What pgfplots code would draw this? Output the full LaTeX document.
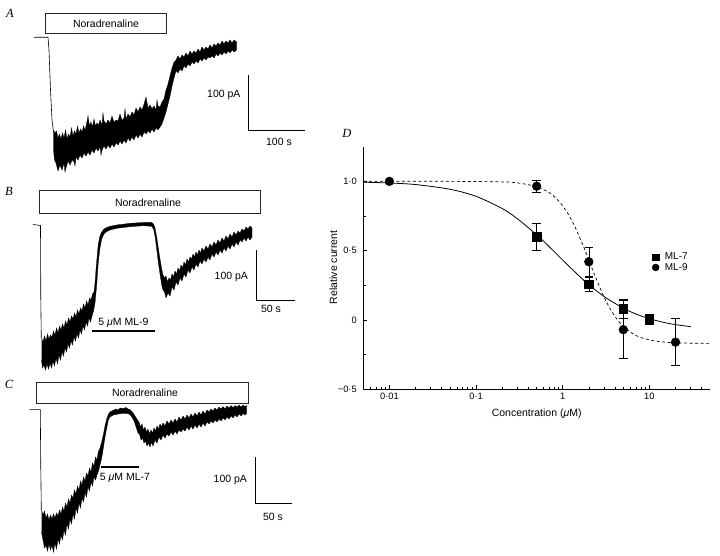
\documentclass[border=0pt]{standalone}
\usepackage{fontspec}
\setmainfont{Liberation Sans}
\newfontfamily\lser{Liberation Serif}
\usepackage{pgfplots}
\pgfplotsset{compat=1.18}
\newcommand\lab{\fontsize{10.5}{12}\selectfont}
\newcommand\pan{\lser\itshape\fontsize{12.5}{14}\selectfont}
\begin{document}
\begin{tikzpicture}
% ---------- panels A, B, C (pixel coordinates, y downward) ----------
\begin{axis}[at={(0pt,0pt)}, anchor=south west, width=720pt, height=556pt, scale only axis,
  xmin=0, xmax=720, ymin=0, ymax=556, y dir=reverse, axis lines=none, clip=false]
% ===== A =====
\addplot[black, line width=0.6pt] coordinates {(34,37.3) (48,37.3) (49,50) (50.5,90) (52,120) (53.5,132)};
\addplot[draw=black, fill=black, line width=0.3pt] coordinates {
(53.3,130) (55,133) (56.5,131) (58,138) (59.5,134) (61,139) (62.5,133) (64,138) (65.5,130) (67,139) (68.5,134) (70,137) (71.5,128) (73,136) (74.5,131) (76,134) (77.5,126) (79,133) (80.5,129) (82,132) (83.5,126) (85,130) (86.5,124) (88,116) (89.5,126) (91,122) (92.5,127) (94,119) (95.5,126) (97,123) (98.5,125) (100,120) (102,125) (103,113) (104,121) (106,124) (108,120) (110,123) (112,116) (114,122) (116,120) (118,121) (120,114) (122,120) (124,118) (125,109) (126,119) (128,114) (130,117) (132,112) (134,115) (136,108) (138,112) (140,107) (142,110) (144,104) (146,97) (148,108) (150,105) (152,109) (154,106) (156,110) (157,100) (158,106) (160,107) (162,102) (164,99) (166,90) (168,84) (170,76) (172,68) (174,62) (176,60) (178,56) (180,59) (182,55) (184,57) (186,53) (188,56) (190,51) (192,54) (194,51) (196,53) (198,49) (200,52) (202,47) (204,50) (206,47) (208,49) (210,45) (212,48) (214,44) (216,46) (218,43) (220,45) (222,41) (224,44) (226,41) (228,43) (230,40) (232,43) (234,40) (236.7,42)
(236.7,50) (234,52) (232,50) (230,53) (228,51) (226,54) (224,52) (222,55) (220,53) (218,56) (216,54) (214,58) (212,56) (210,58) (208,57) (206,60) (204,58) (202,61) (200,59) (198,63) (196,61) (194,64) (192,62) (190,66) (188,64) (186,68) (184,66) (182,71) (180,69) (178,73) (176,71) (174,78) (172,86) (170,96) (168,104) (166,112) (164,118) (162,124) (160,127) (158,130) (156,128) (154,132) (152,129) (150,133) (148,131) (146,134) (144,132) (142,137) (140,134) (138,138) (136,135) (134,140) (132,137) (130,141) (128,138) (126,143) (124,140) (122,144) (120,141) (118,145) (116,143) (114,147) (112,144) (110,148) (108,145) (106,149) (104,146) (102,150) (101,155) (100,147) (98,151) (96,148) (94,153) (92,150) (90,155) (88,152) (86,156) (84,153) (82,158) (80,155) (78,160) (76,157) (75,166) (74,162) (72,160) (70,165) (68,161) (66,168) (65,172) (64,163) (62,170) (60,165) (58,171) (56,163) (54.5,160) (53.5,150)};
\draw[black!85, line width=0.6pt] (axis cs:45.7,13.3) rectangle (axis cs:166,33.3);
\node[font=\lab] at (axis cs:106,23.5) {Noradrenaline};
\draw[black, line width=0.8pt] (axis cs:248.5,75.5) -- (axis cs:248.5,130.8) -- (axis cs:305,130.8);
\node[font=\lab, anchor=east] at (axis cs:244,95) {100 pA};
\node[font=\lab] at (axis cs:279,141.5) {100 s};
\node[font=\pan] at (axis cs:10,13) {A};
% ===== B =====
\addplot[black, line width=0.6pt] coordinates {(33,224.5) (40.5,225.5) (40.8,300) (41.3,338)};
\addplot[draw=black, fill=black, line width=0.3pt] coordinates {
(41.5,338) (43,342) (44.5,336) (46,341) (47.5,334) (49,339) (50.5,335) (52,337) (53.5,331) (55,335) (56.5,328) (58,333) (59.5,326) (61,330) (62.5,324) (64,328) (65.5,321) (67,325) (68.5,318) (70,322) (71.5,316) (73,319) (74.5,313) (76,317) (77.5,310) (79,314) (80.5,308) (82,311) (83.5,304) (85,308) (86.5,301) (88,305) (89.5,298) (91,300) (92.5,294) (94,292) (95,283) (96,270) (97,258) (98.3,244) (100,236) (101.7,232) (104,229) (106.7,227.5) (110,226.3) (116.7,225) (130,223.3) (143,222.5) (151.7,222.3) (153.5,224) (155,228) (156.7,237) (158.3,248) (160,259) (161.7,269) (163,275) (164.5,278) (166,276) (167.5,282) (169,278) (170.5,280) (172,274) (173.5,277) (175,271) (176.5,274) (178,268) (179.5,271) (181,265) (182.5,268) (184,262) (185.5,265) (187,259) (188.5,262) (190,257) (191.5,259) (193,254) (194.5,257) (196,252) (197.5,255) (199,250) (200.5,253) (202,248) (204,251) (206,246) (208,249) (210,244) (212,247) (214,242) (216,245) (218,240) (220,243) (222,238) (224,241) (226,236) (228,239) (230,234) (232,237) (234,232) (236,235) (238,231) (240,233) (242,229) (244,231) (246,227) (248,229) (250,226) (252,228)
(252,237) (250,240) (248,237) (246,241) (244,238) (242,242) (240,240) (238,245) (236,242) (234,247) (232,244) (230,249) (228,246) (226,251) (224,248) (222,253) (220,250) (218,255) (216,252) (214,257) (212,254) (210,260) (208,257) (206,262) (204,259) (202,264) (200,261) (198,267) (196,264) (194,270) (192,267) (190,273) (188,270) (186,277) (184,274) (182,281) (180,278) (178,285) (176,282) (174,290) (172,287) (170,296) (168,293) (166,298) (164.5,292) (163,290) (161.7,285) (160,274) (158.3,262) (156.7,249) (155,236) (153.5,229) (151.7,226.3) (143,225.7) (130,226.7) (116.7,228.3) (110,230) (106.7,231.5) (104,234) (101.7,239) (100,248) (98.3,262) (96.7,285) (95,303) (93.5,311) (92,316) (90.5,322) (89,318) (87.5,326) (86,322) (84.5,330) (83,326) (81.5,334) (80,330) (78.5,338) (77,334) (75.5,341) (74,337) (72.5,345) (71,341) (69.5,348) (68,344) (66.5,352) (65,348) (63.5,356) (62,352) (60.5,360) (59,355) (57.5,364) (56,358) (54.5,366) (53,361) (51.5,368) (50,363) (48.5,369) (47,364) (45.5,370) (44,365) (42.5,368) (41.5,360)};
\draw[black!85, line width=0.6pt] (axis cs:39.3,190) rectangle (axis cs:260,213.3);
\node[font=\lab] at (axis cs:148,202.5) {Noradrenaline};
\draw[black, line width=1.6pt] (axis cs:91.7,331) -- (axis cs:155,331);
\node[font=\lab] at (axis cs:123.5,322.5) {5 \textit{μ}M ML-9};
\draw[black, line width=0.8pt] (axis cs:256,250) -- (axis cs:256,300) -- (axis cs:295,300);
\node[font=\lab, anchor=east] at (axis cs:251.5,277) {100 pA};
\node[font=\lab] at (axis cs:271,308.5) {50 s};
\node[font=\pan] at (axis cs:9,191.5) {B};
% ===== C =====
\addplot[black, line width=0.6pt] coordinates {(29.3,409.3) (40,409.3) (40.3,410) (40.8,470) (41.3,510)};
\addplot[draw=black, fill=black, line width=0.3pt] coordinates {
(41.5,510) (43,515) (44.5,511) (46,518) (47.5,514) (49,520) (50.5,515) (52,519) (53.5,514) (55,518) (56.5,513) (58,516) (59.5,510) (61,514) (62.5,507) (64,511) (65.5,503) (67,507) (68.5,499) (70,503) (71.5,495) (73,498) (74.5,490) (76,494) (77.5,486) (79,490) (80.5,481) (82,485) (83.5,477) (85,481) (86.5,473) (88,476) (89.5,468) (91,472) (92.5,463) (94,466) (95.5,457) (97,460) (98.3,452) (100,448) (101.7,442) (103.5,434) (105,426) (106.7,419) (108.3,414.5) (110,412) (113.3,410.3) (116,409) (118,410) (120,408) (123.3,408.5) (126,407.5) (128,409) (130,409.5) (132.5,412) (135,416) (137.5,420) (139,422) (140.5,427) (142,424) (143.5,430) (145,427) (146.5,432) (148,429) (149.5,434) (151,430) (152.5,433) (154,428) (155.5,431) (157,426) (158.5,429) (160,424) (161.5,427) (163,423) (165,426) (167,421) (169,424) (171,420) (173,423) (175,419) (177,422) (179,417) (181,420) (183,416) (185,419) (187,415) (189,418) (191,414) (193,417) (195,413) (197,416) (199,412) (201,415) (203,411) (205,414) (207,410) (209,412) (211,409) (213,411) (215,408) (217,410) (219,407) (221,409) (223,406.5) (225,409) (227,406) (229,408) (231,405.5) (233,407.5) (235,405.5) (237,407) (239,405) (241,407) (243,405) (245,406.5) (246.7,405.5)
(246.7,413.3) (245,415) (243,413.5) (241,416) (239,414) (237,417) (235,415) (233,418) (231,416) (229,419) (227,417) (225,420) (223,418) (221,421) (219,419) (217,422) (215,420) (213,423) (211,421) (209,424) (207,422) (205,426) (203,423) (201,427) (199,424) (197,428) (195,425) (193,429) (191,426) (189,430) (187,427) (185,431) (183,429) (181,432) (179,430) (177,434) (175,431) (173,435) (171,432) (169,436) (167,434) (165,438) (163,435) (161,440) (159,437) (157,443) (155,440) (153,446) (151.5,442) (150,447) (148.5,443) (147,446) (145.5,441) (144,443) (142.5,438) (141,440) (139.5,434) (138,433) (136,427) (134,421) (132.5,418) (130,414.5) (127,413.5) (123.3,413.3) (118,414) (113.3,415) (110,417) (108.3,420) (106.7,428) (105,437) (103.5,447) (101.7,458) (100,465) (98.5,471) (97,475) (95.5,480) (94,477) (92.5,486) (91,482) (89.5,491) (88,487) (86.5,497) (85,493) (83.5,502) (82,498) (80.5,508) (79,503) (77.5,513) (76,508) (74.5,519) (73,514) (71.5,524) (70,519) (68.5,529) (67,524) (65.5,535) (64,530) (62.5,540) (61,535) (59.5,544) (58,539) (56.5,549) (55,543) (53.5,552) (52,545) (50.5,550) (49,544) (47.5,551) (46,545) (44.5,548) (43,540) (41.5,532)};
\draw[black!85, line width=0.6pt] (axis cs:36.7,382.5) rectangle (axis cs:248.3,403);
\node[font=\lab] at (axis cs:145,392.5) {Noradrenaline};
\draw[black, line width=1.6pt] (axis cs:101,467) -- (axis cs:139.3,467);
\node[font=\lab] at (axis cs:125,478) {5 \textit{μ}M ML-7};
\draw[black, line width=0.8pt] (axis cs:255,457.3) -- (axis cs:255,503.3) -- (axis cs:291.7,503.3);
\node[font=\lab, anchor=east] at (axis cs:250.5,480) {100 pA};
\node[font=\lab] at (axis cs:273,516.5) {50 s};
\node[font=\pan] at (axis cs:9,384.5) {C};
% ===== D letter =====
\node[font=\pan] at (axis cs:347,133.3) {D};
\end{axis}
% ---------- panel D ----------
\begin{axis}[at={(363.3pt,166.7pt)}, anchor=south west, width=346.7pt, height=242.6pt, scale only axis,
  xmode=log, xmin=0.005, xmax=50, ymin=-0.5, ymax=1.25,
  axis x line=bottom, axis y line=left, axis line style={-, line width=0.8pt},
  xtick={0.01,0.1,1,10}, xticklabels={0·01,0·1,1,10},
  minor xtick={0.006,0.007,0.008,0.009,0.02,0.03,0.04,0.05,0.06,0.07,0.08,0.09,0.2,0.3,0.4,0.5,0.6,0.7,0.8,0.9,2,3,4,5,6,7,8,9,20,30,40},
  ytick={-0.5,0,0.5,1}, yticklabels={−0·5,0,0·5,1·0},
  minor ytick={-0.25,0.25,0.75},
  tick align=inside, major tick length=4pt, minor tick length=2.5pt,
  tick style={black, line width=0.6pt},
  ticklabel style={font=\fontsize{9.3}{11}\selectfont},
  yticklabel style={xshift=-3pt},
  xlabel={Concentration (\textit{μ}M)}, ylabel={Relative current},
  label style={font=\lab},
  x label style={at={(axis description cs:0.5,-0.099)}, anchor=center},
  y label style={at={(axis description cs:-0.0865,0.503)}, anchor=center},
  clip=false,
  legend style={at={(axis cs:10.7,0.50)}, anchor=north west, draw=none, fill=none,
    font=\fontsize{10}{11}\selectfont, row sep=-2pt, inner sep=0pt},
  legend cell align=left,
  legend image code/.code={\draw[#1] plot coordinates {(0.12cm,0cm)}; \path (0.12cm,0cm) ++(7pt,0pt);}]
% fitted curves
\addplot[black, line width=0.8pt, smooth, forget plot] coordinates {
(0.005,0.994) (0.01,0.988) (0.02,0.977) (0.05,0.943) (0.1,0.892) (0.2,0.804) (0.3,0.73) (0.5,0.614) (0.7,0.528) (1,0.432) (1.5,0.325) (2,0.255) (3,0.169) (5,0.085) (7,0.043) (10,0.009) (15,-0.019) (20,-0.0335) (30,-0.0485)};
\addplot[black, line width=0.7pt, dash pattern=on 3pt off 2.5pt, smooth, forget plot] coordinates {
(0.005,1.0) (0.05,1.0) (0.2,0.996) (0.3,0.989) (0.5,0.962) (0.7,0.918) (0.85,0.874) (1,0.823) (1.2,0.747) (1.4,0.665) (1.7,0.544) (2,0.432) (2.4,0.306) (3,0.165) (3.6,0.071) (4.5,-0.016) (6,-0.087) (8,-0.127) (12,-0.153) (20,-0.165) (50,-0.169)};
% data with error bars (the 0.01 control point of ML-7 lies under the ML-9 circle)
\addplot[only marks, mark=square*, mark size=4.2pt, black, forget plot,
  error bars/.cd, y dir=both, y explicit, error mark=-,
  error bar style={line width=0.6pt}, error mark options={rotate=90, black, line width=0.6pt, mark size=4.3pt}]
  coordinates {(0.5,0.60) +- (0,0.10) (2,0.257) +- (0,0.05) (5,0.08) +- (0,0.07) (10,0.005) +- (0,0.038)};
\addplot[only marks, mark=*, mark size=4.4pt, black, forget plot,
  error bars/.cd, y dir=both, y explicit, error mark=-,
  error bar style={line width=0.6pt}, error mark options={rotate=90, black, line width=0.6pt, mark size=4.3pt}]
  coordinates {(0.01,1.0) +- (0,0) (0.5,0.965) +- (0,0.045) (2,0.42) +- (0,0.105) (5,-0.07) +- (0,0.21) (20,-0.16) +- (0,0.17)};
\addlegendimage{only marks, mark=square*, mark size=3.3pt, black}
\addlegendentry{ML-7}
\addlegendimage{only marks, mark=*, mark size=3.5pt, black}
\addlegendentry{ML-9}
\end{axis}
\pgfresetboundingbox
\useasboundingbox (0,0) rectangle (720pt,556pt);
\end{tikzpicture}
\end{document}
